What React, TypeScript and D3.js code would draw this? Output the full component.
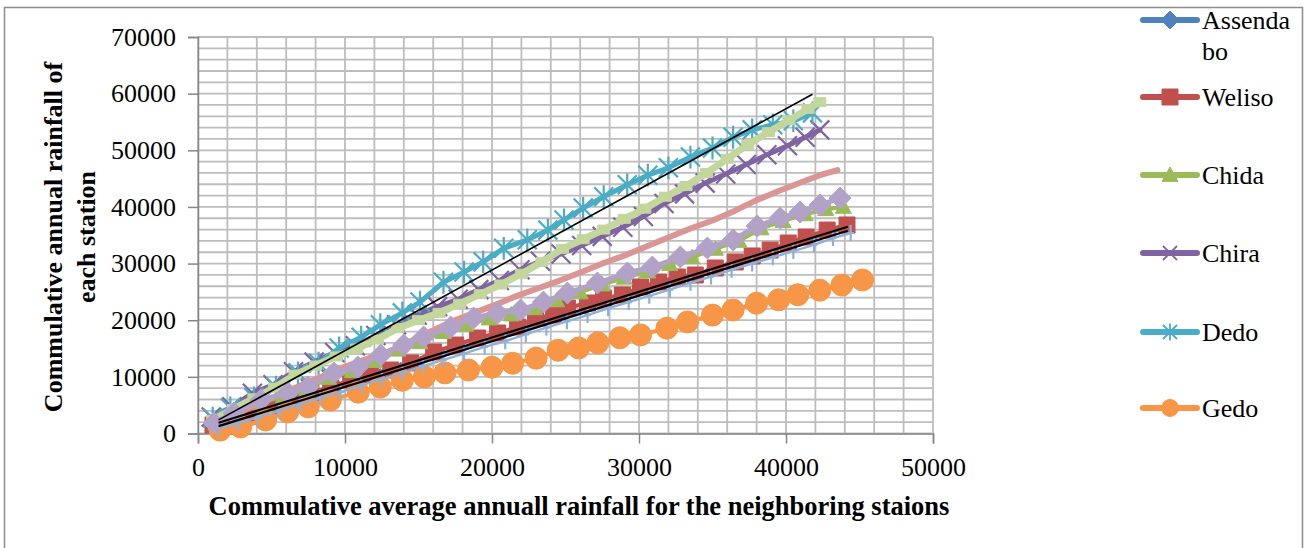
import React, { useEffect, useRef } from 'react';
import * as d3 from 'd3';

// axis ticks
const xTicks = [0, 10000, 20000, 30000, 40000, 50000];
const yTicks = [0, 10000, 20000, 30000, 40000, 50000, 60000, 70000];

// legend
const stationNames = ['Assendabo', 'Weliso', 'Chida', 'Chira', 'Dedo', 'Gedo'];
const legendLines = [['Assenda', 'bo'], ['Weliso'], ['Chida'], ['Chira'], ['Dedo'], ['Gedo']];

// series (x = cumulative of neighbours, y = cumulative of station)
const assendaboX = [1200, 2600, 4000, 5400, 6800, 8200, 9600, 11000, 12400, 13800, 15200, 16600, 18000, 19400, 20800, 22200, 23600, 25000, 26400, 27800, 29200, 30600, 32000, 33400, 34800, 36200, 37600, 39000, 40400, 41800, 43100, 44300];
const assendaboY = [1400, 2600, 3700, 4900, 6000, 7100, 8300, 9400, 10600, 11700, 12800, 14000, 15100, 16300, 17400, 18600, 19700, 20800, 22000, 23100, 24300, 25400, 26500, 27700, 28800, 30000, 31100, 32200, 33400, 34500, 35600, 36300];

const welisoX = [1020, 2240, 3600, 4960, 6320, 7680, 9030, 10390, 11750, 13110, 14470, 16030, 17530, 19020, 20380, 21740, 22960, 24180, 25130, 26490, 27580, 28870, 30100, 31320, 32610, 33830, 35190, 36550, 37700, 38920, 40150, 41370, 42800, 44150];
const welisoY = [1500, 2380, 3620, 4850, 5910, 7150, 8210, 9440, 10330, 11210, 12450, 14390, 15620, 16860, 17740, 18800, 20390, 20920, 22150, 23040, 23920, 24450, 25860, 26750, 27630, 27980, 29220, 30280, 31340, 32390, 33630, 34690, 35920, 36810];

const chidaX = [1200, 2600, 4200, 5800, 7400, 8900, 10500, 12000, 13600, 15100, 16700, 18200, 19800, 21300, 22900, 24400, 26000, 27500, 29000, 30600, 32100, 33600, 35200, 36800, 38300, 39800, 41300, 42700, 43900];
const chidaY = [1800, 3400, 5400, 6500, 7800, 9800, 11000, 12800, 14800, 16100, 17900, 19200, 20300, 21000, 22100, 23500, 24900, 26300, 27500, 28600, 29900, 31100, 32600, 34000, 36200, 37500, 38700, 39600, 40000];

const chiraX = [900, 2300, 3700, 5100, 6500, 7900, 9300, 10700, 12100, 13500, 14900, 16300, 17700, 19100, 20500, 21900, 23300, 24700, 26100, 27500, 28900, 30300, 31700, 33100, 34500, 35900, 37300, 38700, 40100, 41300, 42300];
const chiraY = [2900, 4700, 7100, 8600, 10900, 12600, 14300, 15500, 17300, 19200, 20900, 22400, 23700, 25400, 27000, 28900, 30400, 31700, 33200, 34800, 36400, 38300, 40600, 42300, 44200, 45800, 47500, 49200, 50800, 52300, 53600];

const dedoX = [1000, 2200, 3800, 5300, 6800, 8200, 9600, 11100, 12400, 13900, 15100, 16700, 18100, 19400, 20800, 22400, 23800, 24900, 26200, 27600, 29200, 30600, 32000, 33500, 35000, 36400, 37700, 39100, 40500, 41800];
const dedoY = [2700, 4500, 6300, 8200, 10700, 12400, 15100, 17000, 19200, 21300, 23200, 26700, 28500, 30300, 32700, 34200, 35900, 37700, 39800, 41800, 43900, 45600, 46900, 48800, 50400, 52300, 53600, 54500, 55200, 56600];

const gedoX = [1500, 2900, 4600, 6100, 7500, 9000, 10900, 12400, 13900, 15400, 16800, 18400, 20000, 21400, 23000, 24500, 25900, 27200, 28700, 30100, 31900, 33300, 35000, 36400, 38000, 39500, 40800, 42300, 43800, 45200];
const gedoY = [600, 1150, 2400, 3800, 4700, 5900, 7300, 8200, 9400, 10000, 10700, 11200, 11700, 12400, 13300, 14700, 15100, 16000, 16900, 17400, 18600, 19700, 20900, 21800, 23000, 23600, 24500, 25300, 26200, 27100];

// unlabelled extra series
const lightBlueX = [1400, 2700, 4100, 5500, 6900, 8300, 9700, 11100, 12500, 13900, 15300, 16700, 18100, 19500, 20900, 22300, 23700, 25100, 26500, 27900, 29300, 30700, 32100, 33500, 34900, 36300, 37700, 39100, 40500, 41900, 43200, 44400];
const lightBlueY = [900, 1800, 2900, 4000, 5100, 6300, 7300, 8500, 9600, 10700, 11900, 13000, 14100, 15300, 16300, 17500, 18700, 19800, 20900, 22100, 23200, 24300, 25400, 26600, 27700, 28900, 30000, 31100, 32200, 33300, 34500, 35400];

const pinkX = [1100, 2500, 4000, 5500, 7000, 8400, 9900, 11400, 12900, 14400, 15900, 17300, 18800, 20200, 21700, 23100, 24600, 26100, 27600, 29100, 30500, 32000, 33500, 35000, 36500, 38000, 39500, 41000, 42300, 43500];
const pinkY = [1600, 3300, 5200, 6800, 8500, 10000, 11700, 13100, 14400, 16200, 18100, 19800, 21300, 22700, 24300, 25600, 27000, 28500, 30100, 31500, 33000, 34600, 36200, 37600, 39300, 41200, 42800, 44300, 45600, 46500];

const lightGreenX = [1000, 2400, 3800, 5200, 6600, 8000, 9400, 10800, 12200, 13600, 15000, 16400, 17800, 19200, 20600, 22000, 23400, 24800, 26200, 27600, 29000, 30400, 31800, 33200, 34600, 36000, 37400, 38800, 40200, 41500, 42300];
const lightGreenY = [2400, 4300, 6200, 8100, 10400, 12000, 13600, 15000, 16600, 18600, 20000, 21300, 22900, 24600, 26300, 28200, 30300, 32600, 34300, 36000, 37900, 39700, 41800, 43700, 46000, 48500, 51000, 53200, 55300, 57300, 58500];

const lightPurpleX = [1090, 2450, 4280, 6110, 7470, 9240, 10870, 12430, 13990, 15350, 17190, 18750, 20380, 21940, 23500, 25130, 27170, 29210, 30910, 32810, 34650, 36410, 38040, 39610, 40960, 42320, 43680];
const lightPurpleY = [1850, 3620, 5910, 7150, 8210, 10680, 11740, 13860, 15620, 17040, 18800, 20390, 21270, 21800, 23210, 24800, 26570, 28330, 29390, 31160, 32750, 34160, 36630, 38040, 39100, 40340, 41570];

// linear trend lines (end points)
const dedoTrendX = [1400, 41800];
const dedoTrendY = [2400, 59900];
const welisoTrendX = [1400, 44200];
const welisoTrendY = [1900, 36500];
const assendaboTrendX = [1400, 44200];
const assendaboTrendY = [1300, 35800];

type Marker = 'diamond' | 'square' | 'triangle' | 'x' | 'star' | 'circle' | 'plus' | 'dash' | 'none';

function markerPath(kind: Marker, s: number) {
  const p = d3.path();
  if (kind === 'diamond') {
    p.moveTo(0, -s); p.lineTo(s, 0); p.lineTo(0, s); p.lineTo(-s, 0); p.closePath();
  } else if (kind === 'square') {
    p.rect(-s, -s, 2 * s, 2 * s);
  } else if (kind === 'triangle') {
    p.moveTo(0, -s); p.lineTo(s, s * 0.8); p.lineTo(-s, s * 0.8); p.closePath();
  } else if (kind === 'x') {
    p.moveTo(-s, -s); p.lineTo(s, s); p.moveTo(-s, s); p.lineTo(s, -s);
  } else if (kind === 'star') {
    p.moveTo(-s, -s); p.lineTo(s, s); p.moveTo(-s, s); p.lineTo(s, -s);
    p.moveTo(0, -s * 1.2); p.lineTo(0, s * 1.2);
  } else if (kind === 'plus') {
    p.moveTo(0, -s); p.lineTo(0, s); p.moveTo(-s * 0.4, 0); p.lineTo(s * 0.4, 0);
  } else if (kind === 'dash') {
    p.rect(-s, -s * 0.75, 2 * s, 1.5 * s);
  } else if (kind === 'circle') {
    p.arc(0, 0, s, 0, 2 * Math.PI);
  }
  return p.toString();
}

const strokeMarkers = ['x', 'star', 'plus'];

export default function App() {
  const svgRef = useRef<SVGSVGElement>(null);

  useEffect(() => {
    const svg = d3.select(svgRef.current);
    svg.selectAll('*').remove();

    const serif = '"Liberation Serif", "Times New Roman", serif';

    // frame
    svg.append('rect')
      .attr('x', 4.5).attr('y', 7.5)
      .attr('width', 1298).attr('height', 570)
      .attr('fill', 'white')
      .attr('stroke', '#8c8c8c')
      .attr('stroke-width', 1.5);

    const x = d3.scaleLinear().domain([0, 50000]).range([198, 933]);
    const y = d3.scaleLinear().domain([0, 70000]).range([433.5, 37]);

    // gridlines every 2000
    const grid = svg.append('g').attr('stroke', '#bdbdbd').attr('stroke-width', 1.8);
    d3.range(0, 50001, 2000).forEach((v) => {
      grid.append('line')
        .attr('x1', x(v)).attr('x2', x(v))
        .attr('y1', y(0)).attr('y2', y(70000));
    });
    d3.range(0, 70001, 2000).forEach((v) => {
      grid.append('line')
        .attr('x1', x(0)).attr('x2', x(50000))
        .attr('y1', y(v)).attr('y2', y(v));
    });

    // axes
    const yAxis = svg.append('g')
      .attr('transform', `translate(${x(0)},0)`)
      .call(d3.axisLeft(y).tickValues(yTicks).tickSize(10).tickPadding(12).tickFormat(d3.format('d')));
    const xAxis = svg.append('g')
      .attr('transform', `translate(0,${y(0)})`)
      .call(d3.axisBottom(x).tickValues(xTicks).tickSize(10).tickPadding(14).tickFormat(d3.format('d')));
    [yAxis, xAxis].forEach((a) => {
      a.select('.domain').attr('stroke', '#868686').attr('stroke-width', 1.5);
      a.selectAll('.tick line').attr('stroke', '#868686').attr('stroke-width', 1.5);
      a.selectAll('.tick text')
        .attr('fill', 'black')
        .style('font-family', serif)
        .style('font-size', '26px');
    });

    // series
    const seriesData = [
      { xs: assendaboX, ys: assendaboY },
      { xs: welisoX, ys: welisoY },
      { xs: chidaX, ys: chidaY },
      { xs: chiraX, ys: chiraY },
      { xs: dedoX, ys: dedoY },
      { xs: gedoX, ys: gedoY },
      { xs: lightBlueX, ys: lightBlueY },
      { xs: pinkX, ys: pinkY },
      { xs: lightGreenX, ys: lightGreenY },
      { xs: lightPurpleX, ys: lightPurpleY },
    ];
    const seriesStyle: { color: string; width: number; marker: Marker; size: number }[] = [
      { color: '#4F81BD', width: 3, marker: 'diamond', size: 5 },
      { color: '#C0504D', width: 4, marker: 'square', size: 8 },
      { color: '#9BBB59', width: 4, marker: 'triangle', size: 8 },
      { color: '#8064A2', width: 5, marker: 'x', size: 9.5 },
      { color: '#4BACC6', width: 5, marker: 'star', size: 9.5 },
      { color: '#F79646', width: 4, marker: 'circle', size: 11 },
      { color: '#8EB0DC', width: 2.5, marker: 'plus', size: 8 },
      { color: '#DA9694', width: 6, marker: 'none', size: 0 },
      { color: '#C3D69B', width: 7, marker: 'dash', size: 6 },
      { color: '#B3A2C7', width: 5, marker: 'diamond', size: 11 },
    ];

    const line = d3.line<[number, number]>()
      .x((d) => x(d[0]))
      .y((d) => y(d[1]));

    seriesData.forEach((s, i) => {
      const st = seriesStyle[i];
      const pts: [number, number][] = s.xs.map((v, k) => [v, s.ys[k]]);
      const g = svg.append('g');
      g.append('path')
        .attr('d', line(pts))
        .attr('fill', 'none')
        .attr('stroke', st.color)
        .attr('stroke-width', st.width)
        .attr('stroke-linejoin', 'round')
        .attr('stroke-linecap', 'round');
      if (st.marker !== 'none') {
        const isStroke = strokeMarkers.includes(st.marker);
        g.selectAll('path.m')
          .data(pts)
          .join('path')
          .attr('class', 'm')
          .attr('d', markerPath(st.marker, st.size))
          .attr('transform', (d) => `translate(${x(d[0])},${y(d[1])})`)
          .attr('fill', isStroke ? 'none' : st.color)
          .attr('stroke', st.color)
          .attr('stroke-width', isStroke ? 2.2 : 1);
      }
    });

    // trend lines
    const trends = [
      { xs: dedoTrendX, ys: dedoTrendY, w: 1.6 },
      { xs: welisoTrendX, ys: welisoTrendY, w: 2.2 },
      { xs: assendaboTrendX, ys: assendaboTrendY, w: 2.2 },
    ];
    trends.forEach((t) => {
      svg.append('path')
        .attr('d', line(t.xs.map((v, k) => [v, t.ys[k]] as [number, number])))
        .attr('fill', 'none')
        .attr('stroke', 'black')
        .attr('stroke-width', t.w);
    });

    // axis titles
    svg.append('text')
      .attr('x', 579).attr('y', 515)
      .attr('text-anchor', 'middle')
      .style('font-family', serif)
      .style('font-size', '26.5px')
      .style('font-weight', 'bold')
      .text('Commulative average annuall rainfall for the neighboring staions');

    const yTitle = ['Commulative annual rainfall of', 'each station'];
    yTitle.forEach((t, i) => {
      svg.append('text')
        .attr('transform', `translate(${62 + i * 33},237) rotate(-90)`)
        .attr('text-anchor', 'middle')
        .style('font-family', serif)
        .style('font-size', '26px')
        .style('font-weight', 'bold')
        .text(t);
    });

    // legend
    const legendRowY = [20, 97, 175, 253, 332, 408];
    stationNames.forEach((name, i) => {
      const st = seriesStyle[i];
      const ly = legendRowY[i];
      const g = svg.append('g').attr('class', 'legend-' + name);
      g.append('line')
        .attr('x1', 1143).attr('x2', 1197)
        .attr('y1', ly).attr('y2', ly)
        .attr('stroke', st.color)
        .attr('stroke-width', 6)
        .attr('stroke-linecap', 'round');
      const isStroke = strokeMarkers.includes(st.marker);
      const legendSize = [9, 8, 8, 7, 7, 8.5][i];
      g.append('path')
        .attr('d', markerPath(st.marker, legendSize))
        .attr('transform', `translate(1170,${ly})`)
        .attr('fill', isStroke ? 'none' : st.color)
        .attr('stroke', st.color)
        .attr('stroke-width', isStroke ? 1.8 : 1);
      legendLines[i].forEach((t, k) => {
        g.append('text')
          .attr('x', 1202)
          .attr('y', ly + 9 + k * 31)
          .style('font-family', serif)
          .style('font-size', '26px')
          .text(t);
      });
    });
  }, []);

  return (
    <svg
      ref={svgRef}
      width={1310}
      height={548}
      style={{ position: 'absolute', left: 0, top: 0, background: 'white' }}
    />
  );
}
